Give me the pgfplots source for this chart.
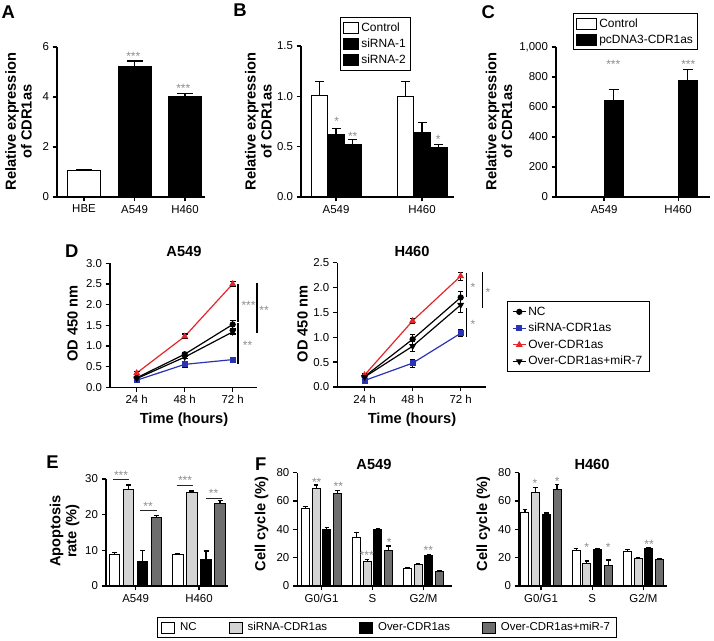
\documentclass[border=0pt]{standalone}
\usepackage{fontspec}
\setmainfont{Liberation Sans}
\usepackage{pgfplots}
\pgfplotsset{compat=1.18}
\definecolor{lg}{HTML}{D4D4D4}
\definecolor{dg}{HTML}{6E6E6E}
\definecolor{stc}{HTML}{8C8C8C}
\definecolor{myred}{HTML}{E4252A}
\definecolor{myblue}{HTML}{2B33B5}
\newcommand\tf{\fontsize{11.5}{13}\selectfont}
\newcommand\lf{\fontsize{14.7}{16}\selectfont\bfseries}
\newcommand\pf{\fontsize{18.5}{20}\selectfont\bfseries}
\pgfplotsset{
  gp/.style={scale only axis, anchor=south west, axis lines=left,
    axis line style={-, line width=1.3bp}, every tick/.style={black, line width=1.3bp},
    tick align=outside, major tick length=4.5bp, ymin=0, clip=false,
    tick label style={font=\tf, text=black}, enlargelimits=false,
    /pgf/number format/assume math mode=true,
    error bars/error bar style={line width=1.2bp, black}},
  cap/.style={error bars/error mark options={rotate=90, black, line width=1.2bp, mark size=#1}},
  bar/.style={ybar, bar shift=0pt, draw=black, line width=1.2bp,
    /pgfplots/error bars/y dir=plus, /pgfplots/error bars/y explicit, forget plot},
  sq/.style={legend image code/.code={\draw[##1, line width=0.9bp] (0bp,-5.5bp) rectangle (#1,5.5bp);}},
  sq/.default=13bp,
}
\tikzset{st/.style={text=stc, font=\fontsize{12}{12}\selectfont, anchor=base, inner sep=0pt},
  lab/.style={font=\lf, align=center, inner sep=0pt}}
% coordinates given as pixel (x, y from top)
\newcommand\st[3]{\node[st] at (#1,641-#2-6.9) {#3};}
\begin{document}
\begin{tikzpicture}[x=1bp,y=1bp]
\useasboundingbox (0,0) rectangle (714,641);
% ---------- A
\begin{axis}[gp, at={(57bp,444bp)}, width=148bp, height=150bp, xmin=-0.535, xmax=2.396, ymax=6,
  ytick={0,2,4,6}, yticklabels={0,2,4,6}, xtick={0,1,2}, xticklabels={HBE,A549,H460}, cap=8bp]
\addplot[bar, fill=white, bar width=0.65] coordinates {(0,1.05) +- (0,0.06)};
\addplot[bar, fill=black, bar width=0.65] coordinates {(1,5.2) +- (0,0.24)};
\addplot[bar, fill=black, bar width=0.65] coordinates {(2,4.01) +- (0,0.13)};
\end{axis}
% ---------- B
\begin{axis}[gp, at={(301bp,444bp)}, width=153bp, height=151bp, xmin=-0.407, xmax=1.372, ymax=1.5,
  ytick={0,0.5,1,1.5}, yticklabels={0.0,0.5,1.0,1.5}, xtick={0,1}, xticklabels={A549,H460}, cap=4.5bp,
  legend style={at={(0.255,1.192)}, anchor=north west, draw=black, line width=0.9bp,
    font=\fontsize{12}{13}\selectfont, legend cell align=left, row sep=2.2bp, inner ysep=3bp}]
\addplot[bar, fill=white, bar width=0.193] coordinates {(-0.193,1.01)+-(0,0.135) (0.807,1.0)+-(0,0.15)};
\addplot[bar, fill=black, bar width=0.193] coordinates {(0,0.617)+-(0,0.06) (1,0.64)+-(0,0.1)};
\addplot[bar, fill=black, bar width=0.193] coordinates {(0.193,0.517)+-(0,0.057) (1.193,0.49)+-(0,0.03)};
\addlegendimage{sq=15bp, fill=white, draw=black}\addlegendentry{Control}
\addlegendimage{sq=15bp, fill=black, draw=black}\addlegendentry{siRNA-1}
\addlegendimage{sq=15bp, fill=black, draw=black}\addlegendentry{siRNA-2}
\end{axis}
% ---------- C
\begin{axis}[gp, at={(556bp,444bp)}, width=154bp, height=150bp, xmin=-0.65, xmax=1.43, ymax=1000,
  ytick={0,200,400,600,800,1000}, yticklabels={0,200,400,600,800,{1,000}}, xtick={0,1}, xticklabels={A549,H460}, cap=5bp,
  legend style={at={(0.110,1.227)}, anchor=north west, draw=black, line width=0.9bp,
    font=\fontsize{12}{13}\selectfont, legend cell align=left, row sep=2.5bp, inner ysep=3bp}]
\addplot[bar, fill=white, bar width=0.257] coordinates {(-0.128,1) (0.872,1)};
\addplot[bar, fill=black, bar width=0.257] coordinates {(0.128,644)+-(0,74) (1.128,773)+-(0,76)};
\addlegendimage{sq=20bp, fill=white, draw=black}\addlegendentry{Control}
\addlegendimage{sq=20bp, fill=black, draw=black}\addlegendentry{pcDNA3-CDR1as}
\end{axis}
% ---------- D left
\begin{axis}[gp, at={(110bp,253.7bp)}, width=146.7bp, height=124bp, xmin=10.65, xmax=84, ymax=3,
  ytick={0,0.5,1,1.5,2,2.5,3}, yticklabels={0.0,0.5,1.0,1.5,2.0,2.5,3.0},
  xtick={24,48,72}, xticklabels={24 h,48 h,72 h},
  error bars/error bar style={line width=1.1bp},
  error bars/error mark options={rotate=90, line width=1.1bp, mark size=2.8bp}]
\addplot[black, line width=1.2bp, mark=*, mark size=2.5bp, error bars/.cd, y dir=both, y explicit]
  coordinates {(24,0.23)+-(0,0.03) (48,0.80)+-(0,0.05) (72,1.52)+-(0,0.1)};
\addplot[myblue, line width=1.2bp, mark=square*, mark size=2.4bp, error bars/.cd, y dir=both, y explicit]
  coordinates {(24,0.17)+-(0,0.03) (48,0.555)+-(0,0.07) (72,0.67)+-(0,0.03)};
\addplot[myred, line width=1.2bp, mark=triangle*, mark size=2.8bp, error bars/.cd, y dir=both, y explicit]
  coordinates {(24,0.346)+-(0,0.04) (48,1.23)+-(0,0.06) (72,2.5)+-(0,0.07)};
\addplot[black, line width=1.2bp, mark=triangle*, mark size=2.8bp, mark options={rotate=180}, error bars/.cd, y dir=both, y explicit]
  coordinates {(24,0.21)+-(0,0.03) (48,0.73)+-(0,0.04) (72,1.34)+-(0,0.05)};
\end{axis}
% ---------- D right
\begin{axis}[gp, at={(337.3bp,254bp)}, width=148.4bp, height=124.3bp, xmin=10.4, xmax=84.5, ymax=2.5,
  ytick={0,0.5,1,1.5,2,2.5}, yticklabels={0.0,0.5,1.0,1.5,2.0,2.5},
  xtick={24,48,72}, xticklabels={24 h,48 h,72 h},
  error bars/error bar style={line width=1.1bp},
  error bars/error mark options={rotate=90, line width=1.1bp, mark size=2.8bp},
  legend style={at={(1.1415,0.692)}, anchor=north west, draw=black, line width=0.9bp,
    font=\fontsize{12}{13}\selectfont, legend cell align=left, row sep=2.5bp,
    inner xsep=5bp, inner ysep=3.5bp},
  legend image code/.code={\draw[mark repeat=2,mark phase=2,#1] plot coordinates {(0bp,0bp) (6.5bp,0bp) (13bp,0bp)};}]
\addplot[black, line width=1.2bp, mark=*, mark size=2.5bp, error bars/.cd, y dir=both, y explicit]
  coordinates {(24,0.21)+-(0,0.03) (48,0.96)+-(0,0.1) (72,1.80)+-(0,0.12)};
\addlegendentry{NC}
\addplot[myblue, line width=1.2bp, mark=square*, mark size=2.4bp, error bars/.cd, y dir=both, y explicit]
  coordinates {(24,0.13)+-(0,0.02) (48,0.48)+-(0,0.08) (72,1.08)+-(0,0.07)};
\addlegendentry{siRNA-CDR1as}
\addplot[myred, line width=1.2bp, mark=triangle*, mark size=2.8bp, error bars/.cd, y dir=both, y explicit]
  coordinates {(24,0.24)+-(0,0.03) (48,1.33)+-(0,0.05) (72,2.23)+-(0,0.08)};
\addlegendentry{Over-CDR1as}
\addplot[black, line width=1.2bp, mark=triangle*, mark size=2.8bp, mark options={rotate=180}, error bars/.cd, y dir=both, y explicit]
  coordinates {(24,0.20)+-(0,0.03) (48,0.82)+-(0,0.1) (72,1.65)+-(0,0.15)};
\addlegendentry{Over-CDR1as+miR-7}
\end{axis}
% ---------- E
\begin{axis}[gp, at={(106bp,55bp)}, width=122bp, height=107.1bp, xmin=-0.469, xmax=1.458, ymax=30,
  ytick={0,10,20,30}, yticklabels={0,10,20,30}, xtick={0,1}, xticklabels={A549,H460}, cap=2.5bp]
\addplot[bar, fill=white, bar width=0.166, line width=1bp] coordinates {(-0.332,8.8)+-(0,0.6) (0.668,8.7)+-(0,0.3)};
\addplot[bar, fill=lg, bar width=0.166, line width=1bp] coordinates {(-0.111,27.1)+-(0,1.2) (0.889,26.2)+-(0,0.4)};
\addplot[bar, fill=black, bar width=0.166, line width=1bp] coordinates {(0.111,7.0)+-(0,3.0) (1.111,7.5)+-(0,2.3)};
\addplot[bar, fill=dg, bar width=0.166, line width=1bp] coordinates {(0.332,19.2)+-(0,0.6) (1.332,23.1)+-(0,0.8)};
\end{axis}
% ---------- F left
\begin{axis}[gp, at={(297.3bp,55bp)}, width=154.4bp, height=113.3bp, xmin=-0.475, xmax=2.553, ymax=80,
  ytick={0,20,40,60,80}, yticklabels={0,20,40,60,80}, xtick={0,1,2}, xticklabels={G0/G1,S,G2/M}, cap=2.3bp,
  legend style={at={(0.579,-0.271)}, anchor=north, legend columns=4, draw=black, line width=1bp,
    font=\tf, inner ysep=3.5bp, inner xsep=4bp,
    /tikz/every odd column/.append style={column sep=3bp},
    /tikz/every even column/.append style={column sep=30bp}}]
\addplot[bar, fill=white, bar width=0.157, line width=1bp] coordinates {(-0.315,54.8)+-(0,1.2) (0.685,34.4)+-(0,3.2) (1.685,12.5)+-(0,0.7)};
\addplot[bar, fill=lg, bar width=0.157, line width=1bp] coordinates {(-0.105,68.5)+-(0,2.8) (0.895,17.6)+-(0,1.2) (1.895,15.5)+-(0,0.5)};
\addplot[bar, fill=black, bar width=0.157, line width=1bp] coordinates {(0.105,40.2)+-(0,1.2) (1.105,40.2)+-(0,0.5) (2.105,21.2)+-(0,0.9)};
\addplot[bar, fill=dg, bar width=0.157, line width=1bp] coordinates {(0.315,65.4)+-(0,1.9) (1.315,25.4)+-(0,2.8) (2.315,10.4)+-(0,0.4)};
\addlegendimage{sq, fill=white, draw=black}\addlegendentry{NC}
\addlegendimage{sq, fill=lg, draw=black}\addlegendentry{siRNA-CDR1as}
\addlegendimage{sq, fill=black, draw=black}\addlegendentry{Over-CDR1as}
\addlegendimage{sq, fill=dg, draw=black}\addlegendentry{Over-CDR1as+miR-7}
\end{axis}
% ---------- F right
\begin{axis}[gp, at={(519bp,55bp)}, width=148.3bp, height=113.3bp, xmin=-0.43, xmax=2.467, ymax=80,
  ytick={0,20,40,60,80}, yticklabels={0,20,40,60,80}, xtick={0,1,2}, xticklabels={G0/G1,S,G2/M}, cap=2.3bp]
\addplot[bar, fill=white, bar width=0.156, line width=1bp] coordinates {(-0.3135,52.2)+-(0,1.9) (0.6865,24.8)+-(0,1.7) (1.6865,24.6)+-(0,1.4)};
\addplot[bar, fill=lg, bar width=0.156, line width=1bp] coordinates {(-0.1045,66.3)+-(0,3.5) (0.8955,15.9)+-(0,1.7) (1.8955,19.4)+-(0,0.5)};
\addplot[bar, fill=black, bar width=0.156, line width=1bp] coordinates {(0.1045,50.6)+-(0,0.9) (1.1045,25.8)+-(0,0.4) (2.1045,26.2)+-(0,0.7)};
\addplot[bar, fill=dg, bar width=0.156, line width=1bp] coordinates {(0.3135,67.9)+-(0,3.5) (1.3135,14.3)+-(0,4.0) (2.3135,18.7)+-(0,0.7)};
\end{axis}
% ---------- panel letters
\node[font=\pf] at (8.3,641-11.7) {A};
\node[font=\pf] at (240,641-10) {B};
\node[font=\pf] at (488.3,641-11.7) {C};
\node[font=\pf] at (71.7,641-250.8) {D};
\node[font=\pf] at (52.5,641-462.5) {E};
\node[font=\pf] at (260.8,641-464) {F};
% ---------- titles and labels
\node[lab] at (184,641-251) {A549};
\node[lab] at (412,641-251) {H460};
\node[lab] at (374,641-464) {A549};
\node[lab] at (592,641-464) {H460};
\node[lab, rotate=90] at (18.5,641-121.7) {Relative expression\\of CDR1as};
\node[lab, rotate=90] at (258.3,641-121.7) {Relative expression\\of CDR1as};
\node[lab, rotate=90] at (499,641-121.7) {Relative expression\\of CDR1as};
\node[lab, rotate=90] at (72.5,641-323.3) {OD 450 nm};
\node[lab, rotate=90] at (302.5,641-324) {OD 450 nm};
\node[lab] at (184,641-420) {Time (hours)};
\node[lab] at (412,641-420) {Time (hours)};
\node[lab, rotate=90] at (64.5,641-531) {Apoptosis\\rate (\%)};
\node[lab, rotate=90] at (261.7,641-524) {Cell cycle (\%)};
\node[lab, rotate=90] at (483.3,641-524) {Cell cycle (\%)};
% ---------- significance lines
\draw[line width=1.3bp] (238,641-284) -- (238,641-322);
\draw[line width=1.3bp] (257,641-283) -- (257,641-333);
\draw[line width=1.3bp] (238,641-323) -- (238,641-364);
\draw[line width=1.3bp] (466.7,641-272.7) -- (466.7,641-297);
\draw[line width=1.3bp] (482.3,641-271.7) -- (482.3,641-307.7);
\draw[line width=1.3bp] (466.7,641-308) -- (466.7,641-336.7);
\draw[line width=1.3bp, black!85] (113,641-479.3) -- (129,641-479.3);
\draw[line width=1.3bp, black!85] (140,641-510.7) -- (156.7,641-510.7);
\draw[line width=1.3bp, black!85] (176.7,641-485.7) -- (192.7,641-485.7);
\draw[line width=1.3bp, black!85] (206,641-498.3) -- (221.7,641-498.3);
% ---------- stars
\st{133.3}{53.3}{***}\st{183.3}{86}{***}
\st{336.7}{118.3}{*}\st{352.7}{133.3}{**}\st{438.3}{136.7}{*}
\st{613.3}{61.7}{***}\st{688.3}{61.7}{***}
\st{248.5}{303}{***}\st{264}{308}{**}\st{247.5}{343}{**}
\st{473}{285}{*}\st{488}{290}{*}\st{473}{321.7}{*}
\st{121}{472.7}{***}\st{148}{504}{**}\st{185}{478}{***}\st{213.5}{490.7}{**}
\st{316.7}{479.3}{**}\st{338.3}{483.3}{**}\st{366.7}{552.7}{***}\st{389.3}{540}{*}\st{428.3}{547.7}{**}
\st{535}{480.7}{*}\st{557.3}{479}{*}\st{586.7}{545}{*}\st{608.3}{545}{*}\st{649}{541.7}{**}
\end{tikzpicture}
\end{document}
